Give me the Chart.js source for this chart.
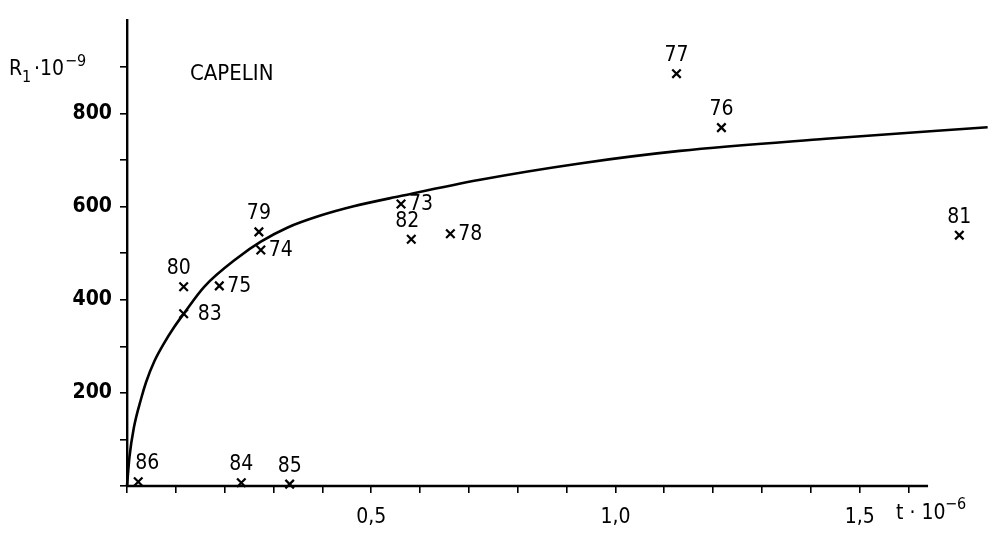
<!DOCTYPE html>
<html>
<head>
    <title>Capelin</title>
    <script src="https://cdn.jsdelivr.net/npm/chart.js"></script>
    <style>
        html, body { margin: 0; padding: 0; background: #fff; }
        #wrap { width: 989px; height: 537px; }
    </style>
</head>
<body>
    <div id="wrap"><canvas id="capelin-chart" width="989" height="537"></canvas></div>

    <script>
        // Year classes with spawning stock (t * 10^-6) and recruits (R1 * 10^-9)
        const years = ['73', '74', '75', '76', '77', '78', '79', '80', '81', '82', '83', '84', '85', '86'];
        const stock = [0.561, 0.274, 0.189, 1.217, 1.125, 0.662, 0.270, 0.116, 1.704, 0.582, 0.116, 0.234, 0.333, 0.023];
        const recruits = [606, 507, 430, 770, 886, 542, 546, 428, 539, 530, 370, 7, 4, 9];

        // Fitted stock-recruitment curve
        const curveX = [0, 0.005, 0.014, 0.029, 0.039, 0.056, 0.076, 0.097, 0.116, 0.158, 0.226, 0.274, 0.328, 0.396, 0.464, 0.56, 0.723, 0.927, 1.132, 1.431, 1.762];
        const curveY = [0, 62, 125, 188, 223, 268, 307, 342, 370, 428, 490, 525, 555, 581, 601, 623, 658, 693, 720, 746, 771];

        // Axis ticks
        const xTicks = [0, 0.1, 0.2, 0.3, 0.4, 0.5, 0.6, 0.7, 0.8, 0.9, 1.0, 1.1, 1.2, 1.3, 1.4, 1.5, 1.6];
        const xLabels = [0.5, 1.0, 1.5];
        const xAxisEnd = 1.64;
        const yTicks = [0, 100, 200, 300, 400, 500, 600, 700, 800, 900];
        const yLabels = [200, 400, 600, 800];

        // where each year label sits relative to its cross
        const labelPlace = {
            '73': 'right', '74': 'right', '75': 'right', '78': 'right', '83': 'right',
            '76': 'above', '77': 'above', '79': 'above', '80': 'above', '81': 'above',
            '82': 'above', '84': 'above', '85': 'above', '86': 'above'
        };
        const labelNudge = { '80': -5, '82': -4, '86': 9, '83': 6 };

        const FONT = '"Liberation Sans Narrow", "DejaVu Sans Condensed", "DejaVu Sans", sans-serif';

        const annotate = {
            id: 'annotate',
            beforeDatasetsDraw(chart) {
                // x axis line stops short of the last point, as in the original
                const ctx = chart.ctx;
                const xs = chart.scales.x, ys = chart.scales.y;
                ctx.save();
                ctx.strokeStyle = '#000';
                ctx.lineWidth = 2.4;
                ctx.beginPath();
                ctx.moveTo(xs.getPixelForValue(0) - 1, ys.getPixelForValue(0));
                ctx.lineTo(xs.getPixelForValue(xAxisEnd), ys.getPixelForValue(0));
                ctx.stroke();
                ctx.restore();
            },
            afterDatasetsDraw(chart) {
                const ctx = chart.ctx;
                const meta = chart.getDatasetMeta(1);
                ctx.save();
                ctx.fillStyle = '#000';
                ctx.font = '21px ' + FONT;
                meta.data.forEach((pt, i) => {
                    const yr = years[i];
                    const nudge = labelNudge[yr] || 0;
                    ctx.textBaseline = 'middle';
                    if (labelPlace[yr] === 'right') {
                        ctx.textAlign = 'left';
                        ctx.fillText(yr, pt.x + 8 + nudge, pt.y + 1);
                    } else {
                        ctx.textAlign = 'center';
                        ctx.fillText(yr, pt.x + nudge, pt.y - 18);
                    }
                });

                // title and axis captions
                ctx.textAlign = 'left';
                ctx.textBaseline = 'alphabetic';
                ctx.font = '22px ' + FONT;
                ctx.fillText('CAPELIN', 190, 80);

                ctx.font = '21px ' + FONT;
                ctx.fillText('R', 9, 75);
                ctx.font = '16px ' + FONT;
                ctx.fillText('1', 22, 82);
                ctx.font = '21px ' + FONT;
                ctx.fillText('\u00b710', 34, 75);
                ctx.font = '16px ' + FONT;
                ctx.fillText('\u22129', 65, 66);

                ctx.font = '21px ' + FONT;
                ctx.fillText('t \u00b7 10', 896, 519);
                ctx.font = '16px ' + FONT;
                ctx.fillText('\u22126', 945, 509);
                ctx.restore();
            }
        };

        const ctx = document.getElementById('capelin-chart').getContext('2d');
        new Chart(ctx, {
            type: 'scatter',
            data: {
                datasets: [{
                    label: 'Curve',
                    data: curveX.map((x, i) => ({ x: x, y: curveY[i] })),
                    showLine: true,
                    borderColor: '#000',
                    borderWidth: 2.6,
                    pointRadius: 0,
                    cubicInterpolationMode: 'monotone',
                    clip: false
                }, {
                    label: 'Year classes',
                    data: stock.map((x, i) => ({ x: x, y: recruits[i] })),
                    pointStyle: 'crossRot',
                    pointRadius: 6,
                    borderWidth: 2.2,
                    borderColor: '#000',
                    backgroundColor: '#000',
                    clip: false
                }]
            },
            options: {
                responsive: false,
                animation: false,
                layout: { padding: { left: 0, right: 1, top: 11, bottom: 0 } },
                plugins: {
                    legend: { display: false },
                    tooltip: { enabled: false }
                },
                scales: {
                    x: {
                        type: 'linear',
                        min: 0,
                        max: 1.748,
                        afterBuildTicks: axis => { axis.ticks = xTicks.map(v => ({ value: v })); },
                        afterFit: axis => { axis.height = 51; },
                        grid: { drawOnChartArea: false, drawTicks: true, tickLength: 7, color: '#000', lineWidth: 1.6 },
                        border: { display: false },
                        ticks: {
                            color: '#000',
                            padding: 12,
                            maxRotation: 0,
                            autoSkip: false,
                            font: { family: FONT, size: 21 },
                            callback: v => xLabels.some(l => Math.abs(l - v) < 1e-6) ? v.toFixed(1).replace('.', ',') : ''
                        }
                    },
                    y: {
                        type: 'linear',
                        min: 0,
                        max: 1000,
                        afterBuildTicks: axis => { axis.ticks = yTicks.map(v => ({ value: v })); },
                        afterFit: axis => { axis.width = 127; },
                        grid: { drawOnChartArea: false, drawTicks: true, tickLength: 7, color: '#000', lineWidth: 1.6 },
                        border: { display: true, color: '#000', width: 2.4 },
                        ticks: {
                            color: '#000',
                            padding: 8,
                            autoSkip: false,
                            font: { family: FONT, size: 21, weight: 'bold' },
                            callback: v => yLabels.includes(v) ? String(v) : ''
                        }
                    }
                }
            },
            plugins: [annotate]
        });
    </script>
</body>
</html>
